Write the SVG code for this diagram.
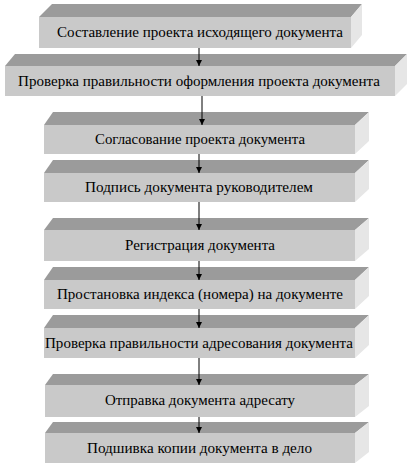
<svg xmlns="http://www.w3.org/2000/svg" width="412" height="476" viewBox="0 0 412 476">
<style>
.front{fill:#c9c9c9}
.top{fill:#9b9b9b}
.side{fill:#e6e6e6}
.lbl{font-family:"Liberation Serif","DejaVu Serif","Times New Roman",serif;font-size:15px;fill:#000;text-anchor:middle}
.conn{stroke:#000;stroke-width:1;fill:none}
</style>
<defs>
<marker id="ah" viewBox="0 0 10 10" refX="10" refY="5" markerWidth="7" markerHeight="6" orient="auto" markerUnits="userSpaceOnUse">
<path d="M0,0 L10,5 L0,10 z" fill="#000"/>
</marker>
</defs>
<rect width="412" height="476" fill="#fff"/>
<g id="n1">
<polygon class="top" points="39,17 52,4 362,4 351,17"/>
<polygon class="side" points="351,17 362,4 362,35 351,48"/>
<rect class="front" x="39" y="17" width="312" height="31"/>
<text class="lbl" x="200" y="37" textLength="286" lengthAdjust="spacingAndGlyphs">Составление проекта исходящего документа</text>
</g>
<g id="n2">
<polygon class="top" points="5,66 15,54 407,54 395,66"/>
<polygon class="side" points="395,66 407,54 407,84 395,96"/>
<rect class="front" x="5" y="66" width="390" height="30"/>
<text class="lbl" x="199" y="86" textLength="362" lengthAdjust="spacingAndGlyphs">Проверка правильности оформления проекта документа</text>
</g>
<g id="n3">
<polygon class="top" points="44,125 53,112 369,112 355,125"/>
<polygon class="side" points="355,125 369,112 369,141 355,154"/>
<rect class="front" x="44" y="125" width="311" height="29"/>
<text class="lbl" x="200" y="144" textLength="210" lengthAdjust="spacingAndGlyphs">Согласование проекта документа</text>
</g>
<g id="n4">
<polygon class="top" points="44,173 53,160 369,160 355,173"/>
<polygon class="side" points="355,173 369,160 369,189 355,202"/>
<rect class="front" x="44" y="173" width="311" height="29"/>
<text class="lbl" x="199" y="192" textLength="228" lengthAdjust="spacingAndGlyphs">Подпись документа руководителем</text>
</g>
<g id="n5">
<polygon class="top" points="44,230 53,218 369,218 355,230"/>
<polygon class="side" points="355,230 369,218 369,249 355,261"/>
<rect class="front" x="44" y="230" width="311" height="31"/>
<text class="lbl" x="200" y="250" textLength="150" lengthAdjust="spacingAndGlyphs">Регистрация документа</text>
</g>
<g id="n6">
<polygon class="top" points="44,280 53,267 369,267 355,280"/>
<polygon class="side" points="355,280 369,267 369,296 355,309"/>
<rect class="front" x="44" y="280" width="311" height="29"/>
<text class="lbl" x="200" y="299" textLength="286" lengthAdjust="spacingAndGlyphs">Простановка индекса (номера) на документе</text>
</g>
<g id="n7">
<polygon class="top" points="44,328 53,315 369,315 355,328"/>
<polygon class="side" points="355,328 369,315 369,345 355,358"/>
<rect class="front" x="44" y="328" width="311" height="30"/>
<text class="lbl" x="199" y="348" textLength="308" lengthAdjust="spacingAndGlyphs">Проверка правильности адресования документа</text>
</g>
<g id="n8">
<polygon class="top" points="45,385 53,374 369,374 355,385"/>
<polygon class="side" points="355,385 369,374 369,406 355,417"/>
<rect class="front" x="45" y="385" width="310" height="32"/>
<text class="lbl" x="200" y="405" textLength="190" lengthAdjust="spacingAndGlyphs">Отправка документа адресату</text>
</g>
<g id="n9">
<polygon class="top" points="45,433 53,422 369,422 355,433"/>
<polygon class="side" points="355,433 369,422 369,452 355,463"/>
<rect class="front" x="45" y="433" width="310" height="30"/>
<text class="lbl" x="199.5" y="453" textLength="225" lengthAdjust="spacingAndGlyphs">Подшивка копии документа в дело</text>
</g>
<g id="connectors">
<line class="conn" x1="199" y1="48" x2="199" y2="66" marker-end="url(#ah)"/>
<line class="conn" x1="202" y1="96" x2="202" y2="125" marker-end="url(#ah)"/>
<line class="conn" x1="199" y1="154" x2="199" y2="173" marker-end="url(#ah)"/>
<line class="conn" x1="199" y1="202" x2="199" y2="230" marker-end="url(#ah)"/>
<line class="conn" x1="199" y1="261" x2="199" y2="280" marker-end="url(#ah)"/>
<line class="conn" x1="199" y1="309" x2="199" y2="328" marker-end="url(#ah)"/>
<line class="conn" x1="199" y1="358" x2="199" y2="385" marker-end="url(#ah)"/>
<line class="conn" x1="199" y1="417" x2="199" y2="433" marker-end="url(#ah)"/>
</g>
</svg>
